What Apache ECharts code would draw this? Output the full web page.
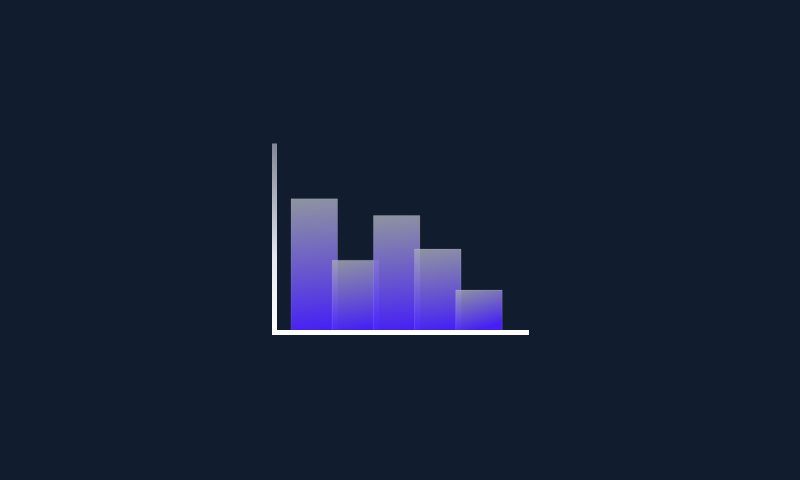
<!DOCTYPE html>
<html style="height: 100%">
   <head>
       <meta charset="utf-8">
   </head>
   <body style="height: 100%; margin: 0; background: #111c2e">
       <div id="container" style="height: 100%"></div>
       <script type="text/javascript" src="https://cdn.jsdelivr.net/npm/echarts@6/dist/echarts.min.js"></script>
       <script type="text/javascript">
var dom = document.getElementById("container");
var myChart = echarts.init(dom);

// bar positions along x (value axis) and heights
var positions = [1, 2, 3, 4, 5];
var values = [72, 39, 63, 45, 23];

var barData = positions.map(function (p, i) {
    return [p, values[i]];
});

var option = {
    backgroundColor: '#111c2e',
    animation: false,
    grid: {
        left: 274.5,
        right: 273.5,
        top: 146,
        bottom: 147.5
    },
    xAxis: {
        type: 'value',
        min: 0.033,
        max: 6.154,
        z: 5,
        splitLine: { show: false },
        axisTick: { show: false },
        axisLabel: { show: false },
        axisLine: {
            show: true,
            lineStyle: { color: '#ffffff', width: 5, cap: 'square' }
        }
    },
    yAxis: {
        type: 'value',
        min: 0,
        max: 100,
        z: 5,
        splitLine: { show: false },
        axisTick: { show: false },
        axisLabel: { show: false },
        axisLine: {
            show: true,
            lineStyle: {
                width: 5,
                cap: 'square',
                color: new echarts.graphic.LinearGradient(0, 144, 0, 333, [
                    { offset: 0, color: 'rgba(150,155,170,0.85)' },
                    { offset: 0.6, color: 'rgba(230,232,238,1)' },
                    { offset: 1, color: '#ffffff' }
                ], true)
            }
        }
    },
    series: [{
        type: 'bar',
        barWidth: 47.5,
        data: barData,
        itemStyle: {
            borderColor: 'rgba(255,255,255,0.12)',
            borderWidth: 1,
            color: new echarts.graphic.LinearGradient(0, 0, 0.25, 1, [
                { offset: 0, color: 'rgba(164,169,180,0.85)' },
                { offset: 1, color: 'rgba(72,32,255,0.95)' }
            ])
        }
    }]
};
myChart.setOption(option, true);
       </script>
   </body>
</html>
